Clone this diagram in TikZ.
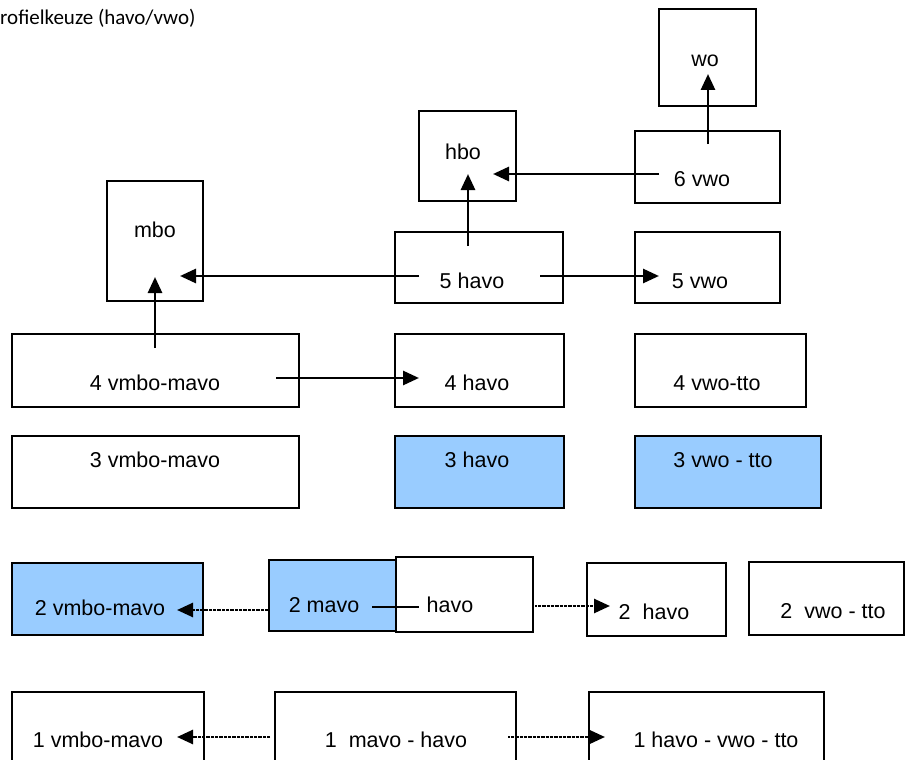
\documentclass[tikz,border=0pt]{standalone}
\usepackage{fontspec}
\setmainfont{Liberation Sans}
\newfontfamily\calibfont{Carlito}
\usetikzlibrary{arrows.meta}
\definecolor{boxblue}{HTML}{99CCFF}
\begin{document}
\begin{tikzpicture}[x=1pt,y=-1pt,
  box/.style={draw=black,line width=1.6pt,fill=white,anchor=north west,inner sep=0pt,outer sep=0pt},
  bluebox/.style={box,fill=boxblue},
  lbl/.style={anchor=base,font=\fontsize{21.5}{25}\selectfont,inner sep=0pt},
  arr/.style={line width=2.8pt,-{Triangle[length=16pt,width=14pt]}},
  plainline/.style={line width=2.8pt},
  dotarr/.style={line width=2.6pt,dash pattern=on 0.8pt off 0.5pt,-{Triangle[length=16pt,width=14pt]}}]
\useasboundingbox (0,0) rectangle (906,760);
\clip (0,0) rectangle (906,760);

% title
\node[anchor=base west,inner sep=0pt,font=\calibfont\fontsize{21}{25}\selectfont] (title) at (0,25) {rofielkeuze (havo/vwo)};

% boxes
\node[box,minimum width=97pt,minimum height=97pt] (wo) at (659,9) {};
\node[box,minimum width=145pt,minimum height=72pt] (n6v) at (635,131) {};
\node[box,minimum width=97pt,minimum height=90pt] (hbo) at (419,111) {};
\node[box,minimum width=168pt,minimum height=71pt] (n5h) at (395,232) {};
\node[box,minimum width=145pt,minimum height=71pt] (n5v) at (635,232) {};
\node[box,minimum width=96pt,minimum height=120pt] (mbo) at (107,181) {};
\node[box,minimum width=287pt,minimum height=73pt] (n4vm) at (12,334) {};
\node[box,minimum width=169pt,minimum height=73pt] (n4h) at (395,334) {};
\node[box,minimum width=171pt,minimum height=73pt] (n4v) at (635,334) {};
\node[box,minimum width=287pt,minimum height=72pt] (n3vm) at (12,436) {};
\node[bluebox,minimum width=169pt,minimum height=72pt] (n3h) at (395,436) {};
\node[bluebox,minimum width=186pt,minimum height=72pt] (n3v) at (635,436) {};
\node[bluebox,minimum width=191pt,minimum height=72pt] (n2vm) at (12,563) {};
\node[bluebox,minimum width=127pt,minimum height=71pt] (n2m) at (269,560) {};
\node[box,minimum width=137pt,minimum height=75pt] (n2hv) at (396,557) {};
\node[box,minimum width=139pt,minimum height=73pt] (n2h) at (587,563) {};
\node[box,minimum width=155pt,minimum height=73pt] (n2v) at (749,562) {};
\node[box,minimum width=192pt,minimum height=90pt] (n1vm) at (12,692) {};
\node[box,minimum width=241pt,minimum height=90pt] (n1mh) at (275,692) {};
\node[box,minimum width=235pt,minimum height=90pt] (n1h) at (589,692) {};

% labels
\node[lbl] (two) at (705,67) {wo};
\node[lbl] (t6v) at (702,186) {6 vwo};
\node[lbl] (thbo) at (463,160) {hbo};
\node[lbl] (t5h) at (472,288) {5 havo};
\node[lbl] (t5v) at (700,288) {5 vwo};
\node[lbl] (tmbo) at (155,237) {mbo};
\node[lbl] (t4vm) at (155,390) {4 vmbo-mavo};
\node[lbl] (t4h) at (477,390) {4 havo};
\node[lbl] (t4v) at (717,390) {4 vwo-tto};
\node[lbl] (t3vm) at (155,467) {3 vmbo-mavo};
\node[lbl] (t3h) at (477,467) {3 havo};
\node[lbl] (t3v) at (723,467) {3 vwo - tto};
\node[lbl] (t2vm) at (100,615) {2 vmbo-mavo};
\node[lbl] (t2m) at (324,612) {2 mavo};
\node[lbl] (t2hv) at (450,612) {havo};
\node[lbl] (t2h) at (654,619) {2~~havo};
\node[lbl] (t2v) at (833,618) {2~~vwo - tto};
\node[lbl] (t1vm) at (98,747) {1 vmbo-mavo};
\node[lbl] (t1mh) at (396,747) {1~~mavo - havo};
\node[lbl] (t1h) at (716,747) {1 havo - vwo - tto};

% connector end points
\coordinate (a1s) at (708,144);  \coordinate (a1e) at (708,74);
\coordinate (a2s) at (659,174);  \coordinate (a2e) at (493,174);
\coordinate (a3s) at (468,246);  \coordinate (a3e) at (468,174);
\coordinate (a4s) at (419,276);  \coordinate (a4e) at (180,276);
\coordinate (a5s) at (540,276);  \coordinate (a5e) at (659,276);
\coordinate (a6s) at (155,348);  \coordinate (a6e) at (155,277);
\coordinate (a7s) at (276,378);  \coordinate (a7e) at (419,378);
\coordinate (l1s) at (372,607);  \coordinate (l1e) at (419,607);
\coordinate (d1s) at (268,610);  \coordinate (d1e) at (177,610);
\coordinate (d2s) at (535,606);  \coordinate (d2e) at (610,606);
\coordinate (d3s) at (270,737);  \coordinate (d3e) at (177,737);
\coordinate (d4s) at (508,737);  \coordinate (d4e) at (605,737);

% connectors
\draw[arr] (a1s) -- (a1e);
\draw[arr] (a2s) -- (a2e);
\draw[arr] (a3s) -- (a3e);
\draw[arr] (a4s) -- (a4e);
\draw[arr] (a5s) -- (a5e);
\draw[arr] (a6s) -- (a6e);
\draw[arr] (a7s) -- (a7e);
\draw[plainline] (l1s) -- (l1e);
\draw[dotarr] (d1s) -- (d1e);
\draw[dotarr] (d2s) -- (d2e);
\draw[dotarr] (d3s) -- (d3e);
\draw[dotarr] (d4s) -- (d4e);
\end{tikzpicture}
\end{document}
